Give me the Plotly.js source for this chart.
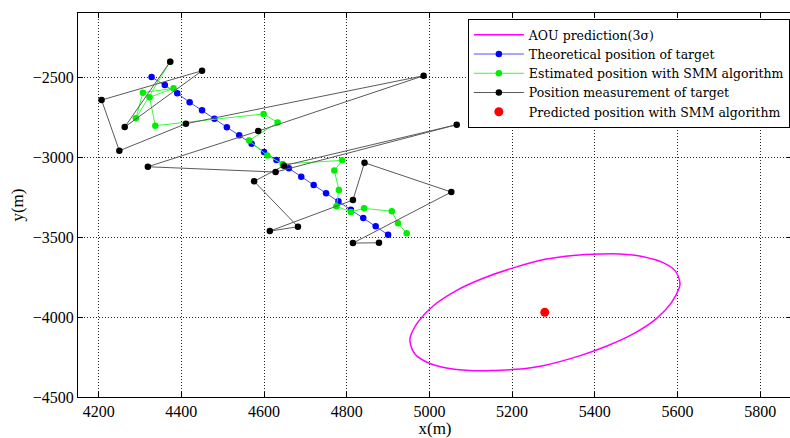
<!DOCTYPE html>
<html>
<head>
<meta charset="utf-8">
<script src="https://cdn.plot.ly/plotly-3.0.1.min.js"></script>
<style>html,body{margin:0;padding:0;background:#fff;overflow:hidden;}#plot{width:792px;height:438px;}</style>
</head>
<body>
<div id="plot"></div>
<script>
// Theoretical position of target
const theoX = [4328,4360,4390,4420,4450,4480,4510,4540,4570,4600,4630,4660,4690,4720,4750,4780,4810,4840,4870,4900];
const theoY = [-2500,-2550,-2602,-2658,-2708,-2761,-2814,-2864,-2917,-2969,-3019,-3071,-3123,-3175,-3227,-3277,-3329,-3382,-3433,-3486];
// Estimated position with SMM algorithm
const estX = [4373,4290,4307,4381,4323,4337,4599,4633,4564,4608,4645,4789,4770,4781,4775,4810,4842,4909,4924,4945];
const estY = [-2404,-2758,-2598,-2571,-2627,-2804,-2731,-2784,-2897,-2991,-3044,-3021,-3084,-3206,-3308,-3343,-3321,-3339,-3414,-3477];
// Position measurement of target
const measX = [4373,4263,4450,4207,4250,4411,4986,4586,4319,4628,5066,4648,4576,4682,4614,4815,4843,5053,4815,4878];
const measY = [-2404,-2813,-2461,-2644,-2961,-2792,-2492,-2838,-3061,-3094,-2798,-3054,-3152,-3436,-3463,-3269,-3036,-3219,-3538,-3536];
// Predicted position with SMM algorithm
const predX = [5279];
const predY = [-3971];
// AOU prediction (3 sigma) outline
const aouX = [5606,5594,5565,5517,5461,5412,5348,5283,5199,5130,5065,5009,4973,4954,4953,4965,4993,5041,5098,5146,5210,5275,5359,5428,5493,5549,5585,5604,5606];
const aouY = [-3790,-3710,-3660,-3623,-3606,-3606,-3615,-3638,-3696,-3758,-3835,-3931,-4029,-4123,-4152,-4231,-4281,-4319,-4335,-4335,-4327,-4304,-4246,-4183,-4106,-4010,-3912,-3819,-3790];

const xTicks = [4200,4400,4600,4800,5000,5200,5400,5600,5800];
const yTicks = [-4500,-4000,-3500,-3000,-2500];

const serif = 'Liberation Serif, Times New Roman, serif';

const traces = [
  {x: aouX, y: aouY, mode: 'lines', name: 'AOU prediction(3σ)',
   line: {color: '#ff00ff', width: 1.5, shape: 'spline', smoothing: 1}},
  {x: theoX, y: theoY, mode: 'lines+markers', name: 'Theoretical position of target',
   line: {color: '#4d4dff', width: 1}, marker: {color: '#0000ff', size: 6.5}},
  {x: estX, y: estY, mode: 'lines+markers', name: 'Estimated position with SMM algorithm',
   line: {color: '#33ff33', width: 1}, marker: {color: '#00ee00', size: 6.5}},
  {x: measX, y: measY, mode: 'lines+markers', name: 'Position measurement of target',
   line: {color: '#5a5a5a', width: 1}, marker: {color: '#000000', size: 6.5}},
  {x: predX, y: predY, mode: 'markers', name: 'Predicted position with SMM algorithm',
   marker: {color: '#ff0000', size: 9}}
];

const axisCommon = {
  ticks: 'inside', ticklen: 5, tickcolor: '#000', tickwidth: 1,
  showline: true, linecolor: '#000', linewidth: 1, mirror: 'ticks',
  showgrid: true, gridcolor: 'rgba(0,0,0,0.85)', griddash: '1px,2px', gridwidth: 1,
  zeroline: false, tickfont: {family: serif, size: 16, color: '#000'},
  automargin: false
};

const layout = {
  width: 792, height: 438,
  margin: {l: 78, r: 0, t: 13, b: 41},
  paper_bgcolor: '#fff', plot_bgcolor: '#fff',
  showlegend: true,
  xaxis: Object.assign({}, axisCommon, {
    range: [4150, 5877], tickvals: xTicks, ticktext: xTicks.map(String),
    title: {text: 'x(m)', font: {family: serif, size: 17, color: '#000'}, standoff: 5}
  }),
  yaxis: Object.assign({}, axisCommon, {
    range: [-4500, -2100], tickvals: yTicks, ticktext: yTicks.map(v => '\u2212' + Math.abs(v)),
    title: {text: 'y(m)', font: {family: serif, size: 17, color: '#000'}, standoff: 4}
  }),
  legend: {
    x: 0.546, y: 0.984, xanchor: 'left', yanchor: 'top',
    bgcolor: '#fff', bordercolor: '#000', borderwidth: 1,
    font: {family: 'DejaVu Serif, serif', size: 12.5, color: '#000'},
    itemwidth: 50, tracegroupgap: 0
  }
};

Plotly.newPlot('plot', traces, layout, {displayModeBar: false, staticPlot: true});
</script>
</body>
</html>
